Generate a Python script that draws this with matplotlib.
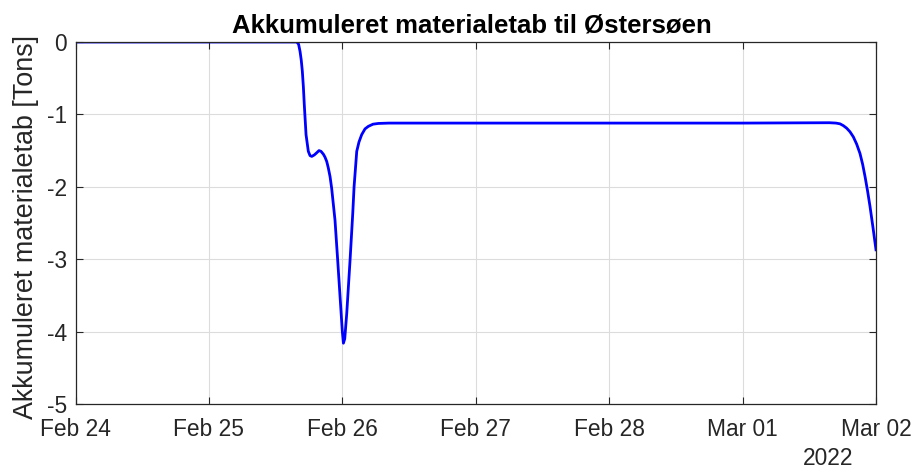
import matplotlib
matplotlib.use("Agg")
import matplotlib.pyplot as plt
import matplotlib.dates as mdates
import pandas as pd

# time in days after 2022-02-24 00:00, loss in tons
days = [0.0, 1.0, 1.60, 1.658, 1.672, 1.683, 1.692, 1.700, 1.708, 1.715, 1.728,
        1.745, 1.758, 1.771, 1.790, 1.808, 1.825, 1.840, 1.858, 1.870, 1.883,
        1.895, 1.908, 1.920, 1.945, 1.965, 1.988, 2.000, 2.008, 2.018, 2.033,
        2.058, 2.078, 2.088, 2.108, 2.125, 2.145, 2.170, 2.195, 2.230, 2.270,
        2.350, 3.0, 4.0, 5.0, 5.65, 5.70, 5.73, 5.755, 5.78, 5.805, 5.83, 5.855,
        5.88, 5.90, 5.918, 5.937, 5.955, 5.978, 6.0]
loss = [0.0, 0.0, 0.0, 0.0, -0.03, -0.13, -0.25, -0.40, -0.62, -0.87, -1.28,
        -1.51, -1.57, -1.58, -1.56, -1.53, -1.50, -1.51, -1.55, -1.59, -1.65,
        -1.74, -1.86, -2.02, -2.46, -3.01, -3.66, -4.00, -4.16, -4.10, -3.75,
        -3.01, -2.37, -2.00, -1.51, -1.38, -1.28, -1.20, -1.165, -1.135, -1.125,
        -1.12, -1.12, -1.12, -1.12, -1.115, -1.12, -1.13, -1.155, -1.19, -1.24,
        -1.31, -1.41, -1.54, -1.69, -1.86, -2.06, -2.27, -2.57, -2.87]

start = pd.Timestamp("2022-02-24")
end = pd.Timestamp("2022-03-02")
y_ticks = [0, -1, -2, -3, -4, -5]

plt.rcParams["font.family"] = ["Liberation Sans", "DejaVu Sans"]
plt.rcParams["axes.unicode_minus"] = False
dark = "#262626"

fig = plt.figure(figsize=(9.16, 4.71), dpi=100)
ax = fig.add_axes([75.5 / 916, 67 / 471, 800.5 / 916, 362 / 471])

t = [start + pd.Timedelta(days=d) for d in days]
ax.plot(t, loss, color="#0000ff", linewidth=2.0)

ax.set_xlim(start, end)
ax.set_ylim(-5, 0)
ax.set_yticks(y_ticks)
ax.xaxis.set_major_locator(mdates.DayLocator())
ax.xaxis.set_major_formatter(mdates.DateFormatter("%b %d"))

ax.grid(True, color="#dcdcdc", linewidth=0.8)
ax.set_axisbelow(True)
ax.tick_params(direction="in", length=5, width=0.8, colors=dark,
               labelsize=16.4, top=True, right=True)
ax.tick_params(axis="x", pad=10)
ax.tick_params(axis="y", pad=6)
for s in ax.spines.values():
    s.set_color(dark)
    s.set_linewidth(0.9)

ax.set_title("Akkumuleret materialetab til Østersøen", fontsize=18.5,
             fontweight="bold", pad=6.5, x=0.495)
ax.set_ylabel("Akkumuleret materialetab [Tons]", fontsize=19.4, color=dark)
ax.yaxis.set_label_coords(-0.045, 0.488)
fig.text(828.5 / 916, 1 - 458.5 / 471, "2022", ha="center", va="center",
         fontsize=16.4, color=dark)

fig.savefig("out.png", dpi=100)
